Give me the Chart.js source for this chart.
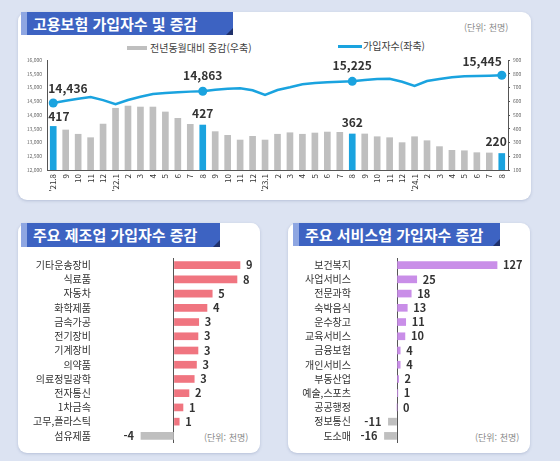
<!DOCTYPE html>
<html lang="ko">
<head>
<meta charset="utf-8">
<script src="https://cdn.jsdelivr.net/npm/chart.js@4.4.1/dist/chart.umd.min.js"></script>
<style>
  html, body { margin: 0; padding: 0; }
  body {
    width: 560px; height: 461px; position: relative; overflow: hidden;
    background: #dce3f2; font-family: 'Noto Sans CJK KR', sans-serif;
  }
  .card { position: absolute; background: #fff; border-radius: 9px; box-shadow: 0 1px 3px rgba(70, 90, 140, 0.25); }
  .banner {
    position: absolute; background: #3d63c2; color: #fff; font-weight: bold;
    white-space: nowrap; box-sizing: border-box; padding-left: 12px;
  }
  .banner::before { content: ''; position: absolute; left: 0; top: 0; bottom: 0; width: 6px; background: #8ea6e2; }
  .banner::after {
    content: ''; position: absolute; right: 0; bottom: 0; border-style: solid;
    border-width: 0 0 7px 7px; border-color: transparent transparent #1f306a transparent;
  }
  .txt { position: absolute; white-space: nowrap; line-height: 1; }
  .unit { color: #8a8a8a; font-size: 9px; }
  .legend { color: #404040; font-size: 10px; }
  .swatch { position: absolute; }
  canvas { position: absolute; }
</style>
</head>
<body>
<div class="card" style="left:18px; top:12px; width:513px; height:188px;"></div>
<div class="card" style="left:18px; top:223px; width:242px; height:230px;"></div>
<div class="card" style="left:288px; top:223px; width:242px; height:230px;"></div>

<div class="banner" style="left:21px; top:12px; width:212px; height:23px; font-size:15px; line-height:23px;">고용보험 가입자수 및 증감</div>
<div class="banner" style="left:21px; top:223px; width:199px; height:24px; font-size:15px; line-height:24px;">주요 제조업 가입자수 증감</div>
<div class="banner" style="left:293px; top:223px; width:207px; height:23px; font-size:15px; line-height:23px;">주요 서비스업 가입자수 증감</div>

<span class="txt unit" style="left:464px; top:23px;">(단위: 천명)</span>
<span class="txt unit" style="left:204px; top:433px;">(단위: 천명)</span>
<span class="txt unit" style="left:475px; top:433px;">(단위: 천명)</span>

<div class="swatch" style="left:127px; top:46px; width:20px; height:4px; background:#bfbfbf;"></div>
<span class="txt legend" style="left:150px; top:43px;">전년동월대비 증감(우축)</span>
<div class="swatch" style="left:338px; top:45px; width:24px; height:3px; background:#1aa3df;"></div>
<span class="txt legend" style="left:363px; top:41px;">가입자수(좌축)</span>

<canvas id="topChart" width="513" height="162" style="left:18px; top:38px;"></canvas>
<canvas id="mfgChart" width="242" height="205" style="left:18px; top:248px;"></canvas>
<canvas id="svcChart" width="242" height="205" style="left:288px; top:248px;"></canvas>

<script>
Chart.defaults.font.family = "'Noto Sans CJK KR', sans-serif";
Chart.defaults.color = '#333';

// monthly, '21.8 ~ '24.8 (천명)
const months = ["'21.8", "9", "10", "11", "12",
  "'22.1", "2", "3", "4", "5", "6", "7", "8", "9", "10", "11", "12",
  "'23.1", "2", "3", "4", "5", "6", "7", "8", "9", "10", "11", "12",
  "'24.1", "2", "3", "4", "5", "6", "7", "8"];
const subscribers = [14436, 14520, 14593, 14655, 14540,
  14389, 14545, 14665, 14764, 14800, 14825, 14850, 14863, 14920, 14956, 14970, 14900,
  14727, 14909, 15006, 15115, 15164, 15189, 15211, 15225, 15270, 15309, 15320, 15211,
  15054, 15236, 15309, 15370, 15406, 15418, 15430, 15445];
const yoyChange = [417, 391, 360, 335, 434,
  549, 565, 558, 558, 522, 476, 432, 427, 379, 352, 318, 345,
  318, 360, 371, 360, 369, 376, 374, 362, 362, 342, 335, 299,
  342, 313, 270, 243, 240, 226, 224, 220];
const highlightMonths = [0, 12, 24, 36]; // every August

const mfgLabels = ['기타운송장비', '식료품', '자동차', '화학제품', '금속가공', '전기장비', '기계장비',
  '의약품', '의료정밀광학', '전자통신', '1차금속', '고무,플라스틱', '섬유제품'];
const mfgValues = [8.8, 8.4, 5.1, 4.4, 3.3, 3.2, 3.2, 3.0, 2.7, 2.0, 1.2, 0.7, -4.4];

const svcLabels = ['보건복지', '사업서비스', '전문과학', '숙박음식', '운수창고', '교육서비스', '금융보험',
  '개인서비스', '부동산업', '예술,스포츠', '공공행정', '정보통신', '도소매'];
const svcValues = [127, 25, 18, 13, 11, 10, 4, 4, 2, 1, 0, -11, -16];

const BLUE = '#1aa3df';
const GRAY = '#bfbfbf';

// numbers over the August points and bars
const topLabels = {
  id: 'topLabels',
  afterDatasetsDraw(chart) {
    const ctx = chart.ctx;
    const pts = chart.getDatasetMeta(0).data;
    const bars = chart.getDatasetMeta(1).data;
    ctx.save();
    ctx.font = "bold 12px 'Noto Sans CJK KR'";
    ctx.fillStyle = '#333';
    ctx.textBaseline = 'middle';
    highlightMonths.forEach((i, k) => {
      const first = k === 0;
      const last = k === highlightMonths.length - 1;
      const p = pts[i], b = bars[i];
      ctx.textAlign = first ? 'left' : last ? 'right' : 'center';
      ctx.fillText(subscribers[i].toLocaleString('en-US'),
        first ? p.x - 5 : p.x, p.y - (first ? 15 : last ? 14 : 16));
      ctx.fillText(String(yoyChange[i]),
        first ? b.x - 5 : last ? b.x + 5 : b.x, b.y - (first ? 10 : 12));
    });
    ctx.restore();
  }
};

new Chart(document.getElementById('topChart'), {
  data: {
    labels: months,
    datasets: [
      {
        type: 'line', label: '가입자수(좌축)', data: subscribers, yAxisID: 'y', order: 0,
        borderColor: BLUE, borderWidth: 2.5, tension: 0,
        pointRadius: (c) => highlightMonths.includes(c.dataIndex) ? 4.5 : 0,
        pointBackgroundColor: BLUE, pointBorderWidth: 0
      },
      {
        type: 'bar', label: '전년동월대비 증감(우축)', data: yoyChange, yAxisID: 'y1', order: 1,
        backgroundColor: (c) => highlightMonths.includes(c.dataIndex) ? BLUE : GRAY,
        barThickness: 6
      }
    ]
  },
  options: {
    responsive: false,
    animation: false,
    layout: { padding: { top: 22, left: 0, right: 0, bottom: 0 } },
    plugins: { legend: { display: false }, tooltip: { enabled: false } },
    scales: {
      x: {
        grid: { display: false, drawTicks: false },
        border: { color: '#555' },
        ticks: { autoSkip: false, minRotation: 90, maxRotation: 90, padding: 4, font: { size: 8 }, color: '#333' },
        afterFit: (s) => { s.height = 30; }
      },
      y: {
        position: 'left', min: 12000, max: 16000,
        grid: { display: false, drawTicks: false },
        border: { color: '#555' },
        ticks: { stepSize: 500, padding: 5, font: { size: 5 }, color: '#666',
          callback: (v) => v.toLocaleString('en-US') },
        afterFit: (s) => { s.width = 29; }
      },
      y1: {
        position: 'right', min: 100, max: 900,
        grid: { drawOnChartArea: false, tickLength: 2, color: '#555' },
        border: { color: '#555' },
        ticks: { stepSize: 100, padding: 3, font: { size: 5 }, color: '#666' },
        afterFit: (s) => { s.width = 23; }
      }
    }
  },
  plugins: [topLabels]
});

const barValueLabels = {
  id: 'barValueLabels',
  afterDatasetsDraw(chart) {
    const ctx = chart.ctx;
    const values = chart.data.datasets[0].data;
    ctx.save();
    ctx.font = "bold 11px 'Noto Sans CJK KR'";
    ctx.fillStyle = '#333';
    ctx.textBaseline = 'middle';
    chart.getDatasetMeta(0).data.forEach((bar, i) => {
      const v = values[i];
      if (v >= 0) {
        ctx.textAlign = 'left';
        ctx.fillText(String(Math.round(v)), bar.x + 6, bar.y);
      } else {
        ctx.textAlign = 'right';
        ctx.fillText(String(Math.round(v)), bar.x - 7, bar.y);
      }
    });
    ctx.restore();
  }
};

function makeHBar(id, labels, values, color, xMin, xMax, axisWidth, padRight, labelSize) {
  new Chart(document.getElementById(id), {
    type: 'bar',
    data: {
      labels: labels,
      datasets: [{
        data: values,
        backgroundColor: values.map((v) => v < 0 ? GRAY : color),
        barThickness: 7
      }]
    },
    options: {
      indexAxis: 'y',
      responsive: false,
      animation: false,
      layout: { padding: { top: 8, bottom: 6, left: 0, right: padRight } },
      plugins: { legend: { display: false }, tooltip: { enabled: false } },
      scales: {
        x: {
          min: xMin, max: xMax,
          afterBuildTicks: (s) => { s.ticks = [{ value: 0 }]; },
          grid: { color: '#555', lineWidth: 1, drawTicks: false },
          border: { display: false },
          ticks: { display: false },
          afterFit: (s) => { s.height = 0; }
        },
        y: {
          grid: { display: false, drawTicks: false },
          border: { display: false },
          ticks: { padding: 4, font: { size: labelSize }, color: '#333', autoSkip: false },
          afterFit: (s) => { s.width = axisWidth; }
        }
      }
    },
    plugins: [barValueLabels]
  });
}

makeHBar('mfgChart', mfgLabels, mfgValues, '#f07580', -10.53, 10.27, 77, 9, 10);
makeHBar('svcChart', svcLabels, svcValues, '#c98ee8', -53.4, 146, 67, 18, 10);
</script>
</body>
</html>
